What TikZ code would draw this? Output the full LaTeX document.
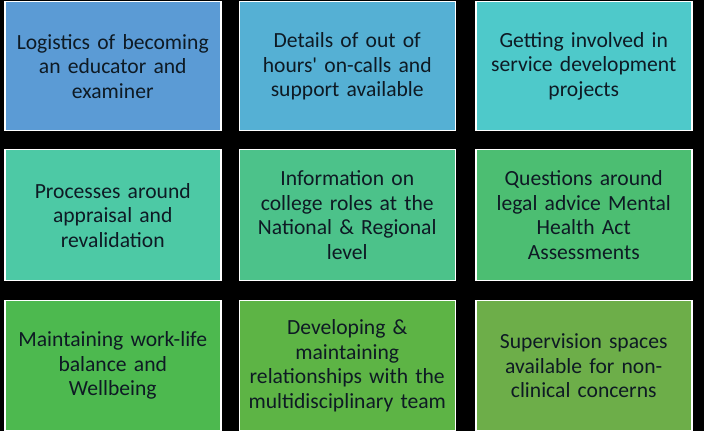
\documentclass[tikz,border=0pt]{standalone}
\usepackage{fontspec}
\setmainfont{Carlito}
\newfontfamily\nolig[Ligatures=TeXOff]{Carlito}
\definecolor{c1}{HTML}{5B9BD5}
\definecolor{c2}{HTML}{55B0D4}
\definecolor{c3}{HTML}{4EC9CA}
\definecolor{c4}{HTML}{4DC9A5}
\definecolor{c5}{HTML}{4CC28A}
\definecolor{c6}{HTML}{4CBE72}
\definecolor{c7}{HTML}{4DB94F}
\definecolor{c8}{HTML}{5DB445}
\definecolor{c9}{HTML}{6DAE49}
\definecolor{txt}{HTML}{0E1A24}
\begin{document}
\begin{tikzpicture}[x=1pt,y=1pt,
  cell/.style={draw=white, line width=1.5pt, minimum width=216pt, minimum height=129pt,
    inner sep=0pt, text width=212pt, align=center, text=txt,
    font=\fontsize{21.6}{24.5}\selectfont, anchor=north west}]
\fill[black] (0,0) rectangle (704,431);
\useasboundingbox (0,0) rectangle (704,431);
\node[cell, fill=c1] (a) at (4,430) {Logistics of becoming\\an educator and\\examiner};
\node[cell, fill=c2] (b) at (238.5,430) {Details of out of\\hours{\nolig '} on-calls and\\support available};
\node[cell, fill=c3] (c) at (475,430) {Getting involved in\\service development\\projects};
\node[cell, fill=c4, minimum height=131pt] (d) at (4,282) {Processes around\\appraisal and\\revalidation};
\node[cell, fill=c5, minimum height=131pt] (e) at (238.5,282) {Information on\\college roles at the\\National \& Regional\\level};
\node[cell, fill=c6, minimum height=131pt] (f) at (475,282) {Questions around\\legal advice Mental\\Health Act\\Assessments};
\node[cell, fill=c7, minimum height=130pt] (g) at (4,131) {Maintaining work-life\\balance and\\Wellbeing};
\node[cell, fill=c8, minimum height=130pt] (h) at (238.5,131) {Developing \&\\maintaining\\relationships with the\\multidisciplinary team};
\node[cell, fill=c9, minimum height=130pt] (i) at (475,131) {Supervision spaces\\available for non-\\clinical concerns};
\end{tikzpicture}
\end{document}
